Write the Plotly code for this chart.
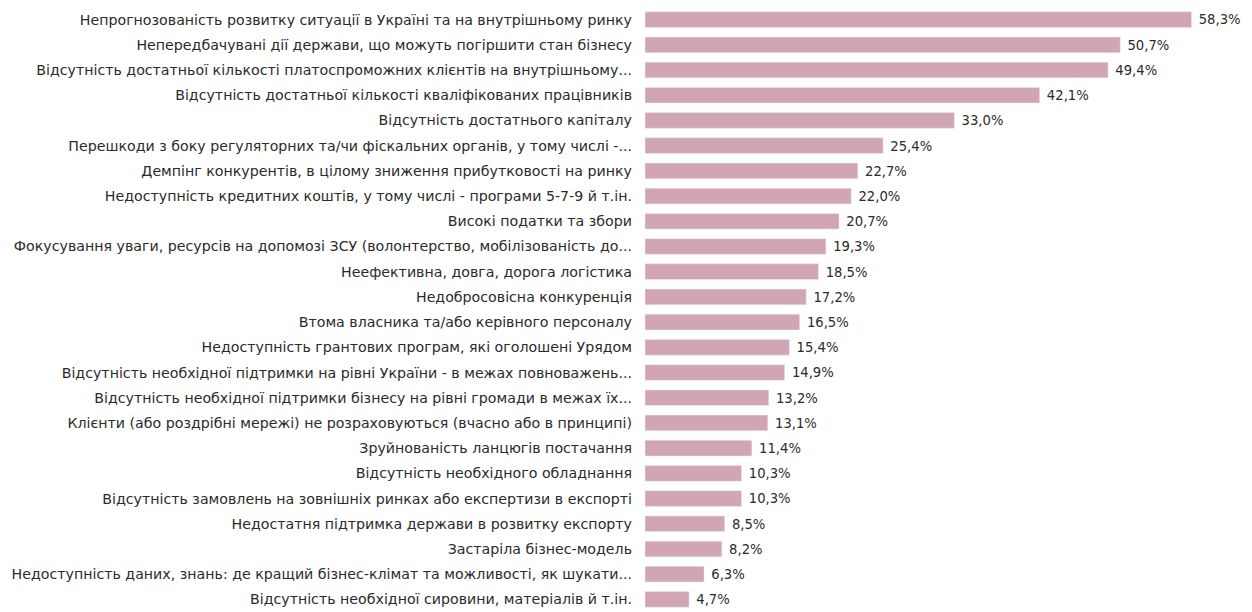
import plotly.graph_objects as go

# категорії (зверху вниз)
categories = [
    "Непрогнозованість розвитку ситуації в Україні та на внутрішньому ринку",
    "Непередбачувані дії держави, що можуть погіршити стан бізнесу",
    "Відсутність достатньої кількості платоспроможних клієнтів на внутрішньому...",
    "Відсутність достатньої кількості кваліфікованих працівників",
    "Відсутність достатнього капіталу",
    "Перешкоди з боку регуляторних та/чи фіскальних органів, у тому числі -...",
    "Демпінг конкурентів, в цілому зниження прибутковості на ринку",
    "Недоступність кредитних коштів, у тому числі - програми 5-7-9 й т.ін.",
    "Високі податки та збори",
    "Фокусування уваги, ресурсів на допомозі ЗСУ (волонтерство, мобілізованість до...",
    "Неефективна, довга, дорога логістика",
    "Недобросовісна конкуренція",
    "Втома власника та/або керівного персоналу",
    "Недоступність грантових програм, які оголошені Урядом",
    "Відсутність необхідної підтримки на рівні України - в межах повноважень...",
    "Відсутність необхідної підтримки бізнесу на рівні громади в межах їх...",
    "Клієнти (або роздрібні мережі) не розраховуються (вчасно або в принципі)",
    "Зруйнованість ланцюгів постачання",
    "Відсутність необхідного обладнання",
    "Відсутність замовлень на зовнішніх ринках або експертизи в експорті",
    "Недостатня підтримка держави в розвитку експорту",
    "Застаріла бізнес-модель",
    "Недоступність даних, знань: де кращий бізнес-клімат та можливості, як шукати...",
    "Відсутність необхідної сировини, матеріалів й т.ін.",
]
values = [58.3, 50.7, 49.4, 42.1, 33.0, 25.4, 22.7, 22.0, 20.7, 19.3, 18.5, 17.2,
          16.5, 15.4, 14.9, 13.2, 13.1, 11.4, 10.3, 10.3, 8.5, 8.2, 6.3, 4.7]

BAR_COLOR = '#d1a5b4'
TEXT_COLOR = '#2b2b2b'

# підписи значень з комою, пробіл - відступ від стовпчика
labels = [" " + f"{v:.1f}%".replace('.', ',') for v in values]

fig = go.Figure(go.Bar(
    x=values,
    y=categories,
    orientation='h',
    marker_color=BAR_COLOR,
    width=0.62,
    text=labels,
    textposition='outside',
    cliponaxis=False,
    textfont=dict(size=13.5, color=TEXT_COLOR),
))

fig.update_layout(
    width=1252,
    height=612,
    margin={"l": 645, "r": 8, "t": 7, "b": 0},
    paper_bgcolor='white',
    plot_bgcolor='white',
    font=dict(family='DejaVu Sans', size=14.2, color=TEXT_COLOR),
    showlegend=False,
)
fig.update_xaxes(range=[0, 63.9], visible=False)
fig.update_yaxes(autorange='reversed', ticks='', ticklabelstandoff=12,
                 showgrid=False, showline=False)

# прибрати відступ body, щоб фігура починалась з (0, 0)
fig.write_html("out.html", config={'displayModeBar': False},
               post_script="document.body.style.margin='0';")
